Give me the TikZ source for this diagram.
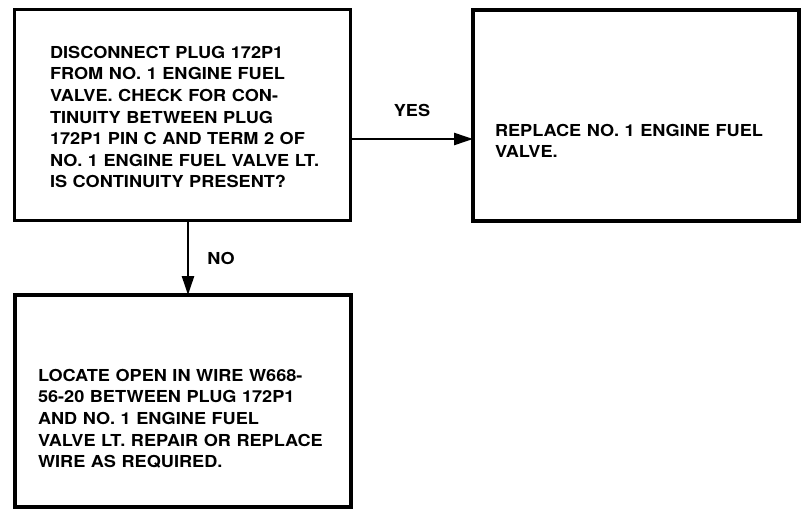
\documentclass[tikz,border=0pt]{standalone}
\usepackage{fontspec}
\setmainfont{TeX Gyre Heros}[FakeStretch=1.1]
\usetikzlibrary{arrows.meta}
\tikzset{
  box/.style={draw=black, line width=3.5pt, inner sep=0pt, outer sep=0pt, fill=none},
  txt/.style={anchor=north west, inner sep=0pt, outer sep=0pt, align=left, text width=320pt,
    font=\fontsize{16.5}{21.6}\selectfont\bfseries},
  lbl/.style={inner sep=0pt, font=\fontsize{16.5}{20}\selectfont\bfseries},
  arr/.style={line width=2.5pt, -{Triangle[length=19pt,width=12pt]}}
}
\begin{document}
\begin{tikzpicture}[x=1pt,y=-1pt]
\useasboundingbox (0,0) rectangle (802,511);
\node[box, minimum width=336pt, minimum height=211pt] (b1) at (182.5,115) {};
\node[box, minimum width=326pt, minimum height=211pt] (b2) at (636,115.5) {};
\node[box, minimum width=336pt, minimum height=212pt] (b3) at (183,401) {};
\node[txt] (t1) at (50,46) {DISCONNECT PLUG 172P1\\FROM NO. 1 ENGINE FUEL\\VALVE. CHECK FOR CON-\\TINUITY BETWEEN PLUG\\172P1 PIN C AND TERM 2 OF\\NO. 1 ENGINE FUEL VALVE LT.\\IS CONTINUITY PRESENT?};
\node[txt] (t2) at (495,124) {REPLACE NO. 1 ENGINE FUEL\\VALVE.};
\node[txt] (t3) at (38,369) {LOCATE OPEN IN WIRE W668-\\56-20 BETWEEN PLUG 172P1\\AND NO. 1 ENGINE FUEL\\VALVE LT. REPAIR OR REPLACE\\WIRE AS REQUIRED.};
\draw[arr] ([yshift=-24pt]b1.east) -- ([yshift=-24pt]b1.east -| b2.west);
\draw[arr] ([xshift=5.5pt]b1.south) -- ([xshift=5.5pt]b1.south |- b3.north);
\node[lbl] (yes) at (412,110) {YES};
\node[lbl] (no) at (221,258) {NO};
\end{tikzpicture}
\end{document}
